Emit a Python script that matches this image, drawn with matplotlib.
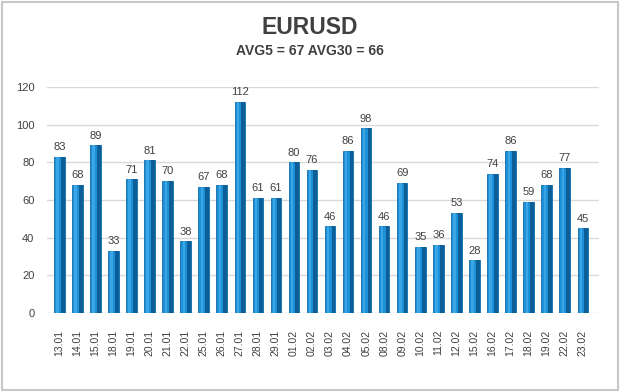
import matplotlib
matplotlib.use("Agg")
import matplotlib.pyplot as plt
from matplotlib.patches import Rectangle

dates = ["13.01","14.01","15.01","18.01","19.01","20.01","21.01","22.01","25.01","26.01",
         "27.01","28.01","29.01","01.02","02.02","03.02","04.02","05.02","08.02","09.02",
         "10.02","11.02","12.02","15.02","16.02","17.02","18.02","19.02","22.02","23.02"]
values = [83,68,89,33,71,81,70,38,67,68,112,61,61,80,76,46,86,98,46,69,
          35,36,53,28,74,86,59,68,77,45]
yticks = [0,20,40,60,80,100,120]
title = "EURUSD"
subtitle = "AVG5 = 67 AVG30 = 66"

fig = plt.figure(figsize=(6.2,3.92), dpi=100)
fig.patch.set_facecolor("white")
fig.add_artist(Rectangle((0.003,0.004),0.994,0.992, transform=fig.transFigure,
                         fill=False, edgecolor="#c8c8c8", linewidth=1.5))

ax = fig.add_axes([47/620, 1-313/392, 552/620, (313-87)/392])
x = list(range(len(values)))
bw = 0.58
ax.bar(x, values, width=bw, color="#1e90d8", edgecolor="#0f6aa8", linewidth=0.6, zorder=3)
ax.bar([i + bw*0.32 for i in x], values, width=bw*0.36, color="#0c5e98", linewidth=0, zorder=4)
ax.bar([i - bw*0.18 for i in x], values, width=bw*0.22, color="#3aa6e6", linewidth=0, zorder=4)

for i, v in zip(x, values):
    ax.text(i, v + 2.5, str(v), ha="center", va="bottom", fontsize=8, color="#404040",
            family="Liberation Sans")

ax.set_xlim(-0.68, len(values) - 0.1)
ax.set_ylim(0, 120)
ax.set_yticks(yticks)
ax.set_yticklabels([str(t) for t in yticks], fontsize=8, color="#404040", family="Liberation Sans")
ax.set_xticks(x)
ax.set_xticklabels(dates, rotation=90, fontsize=7.5, color="#404040", family="Liberation Sans")
ax.tick_params(length=0, pad=12, axis="x")
ax.tick_params(length=0, pad=9, axis="y")
ax.grid(axis="y", color="#d9d9d9", linewidth=1.0, zorder=0)
for s in ax.spines.values():
    s.set_visible(False)

fig.text(0.5, 1-27/392, title, ha="center", va="center", fontsize=16.5, fontweight="bold",
         color="#404040", family="Liberation Sans")
fig.text(0.5, 1-51/392, subtitle, ha="center", va="center", fontsize=10, fontweight="bold",
         color="#404040", family="Liberation Sans")

fig.savefig("out.png", dpi=100, facecolor="white")
